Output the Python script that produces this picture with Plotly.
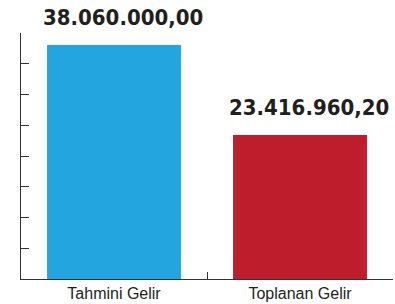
import plotly.graph_objects as go

categories = ["Tahmini Gelir", "Toplanan Gelir"]
values = [38060000.00, 23416960.20]
bar_colors = ["#23A6DF", "#BE1D2C"]
y_tick_values = [0, 5e6, 10e6, 15e6, 20e6, 25e6, 30e6, 35e6, 40e6]


def tr_format(v):
    s = f"{v:,.2f}"
    return s.replace(",", "X").replace(".", ",").replace("X", ".")


fig = go.Figure()
fig.add_trace(go.Bar(
    x=categories,
    y=values,
    width=0.72,
    marker=dict(color=bar_colors, line=dict(width=0)),
    hoverinfo="skip",
))

for c, v in zip(categories, values):
    fig.add_annotation(
        x=c, y=v, text=tr_format(v), showarrow=False,
        xanchor="center", yanchor="bottom", xshift=9, yshift=13,
        font=dict(family="DejaVu Sans Condensed, Liberation Sans Narrow, sans-serif",
                  size=22, color="#231F20", weight="bold"),
    )

fig.update_layout(
    width=395, height=304,
    margin=dict(l=21, r=2, t=33, b=25),
    paper_bgcolor="white", plot_bgcolor="white",
    showlegend=False,
    xaxis=dict(
        range=[-0.5, 1.5],
        automargin=False,
        showline=True, linecolor="#333333", linewidth=1,
        ticks="inside", ticklen=7, tickcolor="#333333", tickwidth=1,
        tickson="boundaries",
        showgrid=False,
        ticklabelstandoff=0,
        tickfont=dict(family="Liberation Sans Narrow, sans-serif", size=16, color="#231F20"),
    ),
    yaxis=dict(
        range=[0, 40e6],
        automargin=False,
        tickvals=y_tick_values,
        showticklabels=False,
        showline=True, linecolor="#333333", linewidth=1,
        ticks="inside", ticklen=8, tickcolor="#333333", tickwidth=1,
        showgrid=False, zeroline=False,
    ),
)

fig.write_html(
    "out.html",
    config={"displayModeBar": False},
    post_script="document.body.style.margin='0';document.body.style.overflow='hidden';",
)
